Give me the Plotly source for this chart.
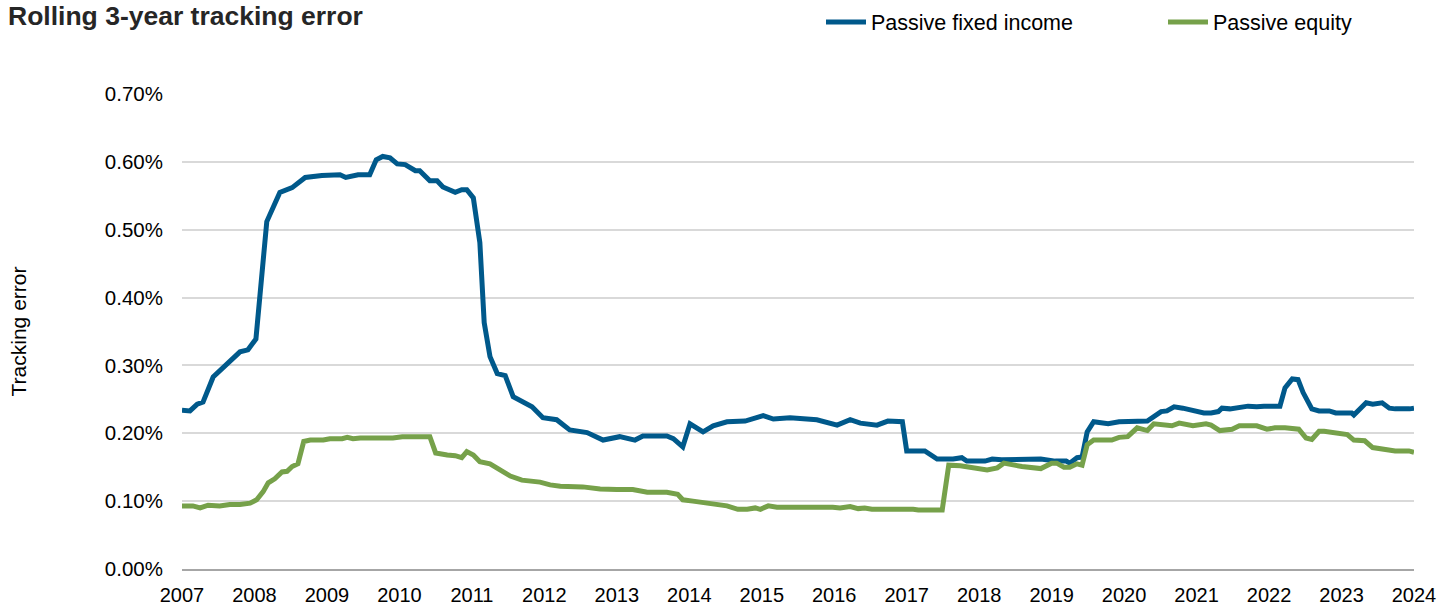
import plotly.graph_objects as go

# ---- data (values in %) ----
fi_years = [2007.00, 2007.11, 2007.21, 2007.29, 2007.43, 2007.80, 2007.91, 2008.02, 2008.17, 2008.35,
            2008.52, 2008.70, 2008.93, 2009.18, 2009.26, 2009.43, 2009.59, 2009.68, 2009.77, 2009.87,
            2009.97, 2010.08, 2010.22, 2010.28, 2010.42, 2010.52, 2010.60, 2010.77, 2010.86, 2010.93,
            2011.02, 2011.11, 2011.17, 2011.25, 2011.35, 2011.46, 2011.57, 2011.71, 2011.83, 2011.98,
            2012.17, 2012.35, 2012.59, 2012.81, 2013.04, 2013.25, 2013.36, 2013.69, 2013.78, 2013.91,
            2014.01, 2014.19, 2014.33, 2014.52, 2014.77, 2015.02, 2015.16, 2015.39, 2015.76, 2016.04,
            2016.22, 2016.36, 2016.59, 2016.74, 2016.94, 2017.00, 2017.25, 2017.42, 2017.64, 2017.76,
            2017.83, 2018.08, 2018.18, 2018.31, 2018.52, 2018.85, 2019.05, 2019.20, 2019.25, 2019.35,
            2019.42, 2019.49, 2019.58, 2019.78, 2019.93, 2020.08, 2020.18, 2020.32, 2020.51, 2020.59,
            2020.69, 2020.81, 2021.10, 2021.20, 2021.30, 2021.35, 2021.46, 2021.61, 2021.71, 2021.83,
            2021.93, 2022.15, 2022.22, 2022.32, 2022.40, 2022.47, 2022.59, 2022.69, 2022.83, 2022.92,
            2023.14, 2023.17, 2023.34, 2023.43, 2023.56, 2023.66, 2023.74, 2023.94, 2024.00]
fi_values = [0.234, 0.233, 0.243, 0.246, 0.283, 0.320, 0.323, 0.339, 0.512, 0.555,
             0.562, 0.577, 0.580, 0.581, 0.577, 0.581, 0.581, 0.603, 0.608, 0.606,
             0.597, 0.596, 0.587, 0.587, 0.572, 0.572, 0.563, 0.555, 0.559, 0.559,
             0.547, 0.481, 0.363, 0.313, 0.288, 0.285, 0.254, 0.245, 0.239, 0.223,
             0.220, 0.205, 0.201, 0.190, 0.195, 0.190, 0.196, 0.196, 0.192, 0.180,
             0.214, 0.202, 0.211, 0.217, 0.218, 0.226, 0.221, 0.223, 0.220, 0.212,
             0.220, 0.215, 0.212, 0.218, 0.217, 0.174, 0.174, 0.162, 0.162, 0.164,
             0.159, 0.159, 0.162, 0.161, 0.162, 0.162, 0.159, 0.159, 0.156, 0.164,
             0.165, 0.202, 0.217, 0.214, 0.217, 0.217, 0.218, 0.218, 0.232, 0.233,
             0.239, 0.237, 0.230, 0.230, 0.232, 0.237, 0.236, 0.239, 0.240, 0.239,
             0.240, 0.240, 0.267, 0.280, 0.279, 0.260, 0.236, 0.233, 0.233, 0.230,
             0.230, 0.227, 0.245, 0.243, 0.245, 0.237, 0.236, 0.236, 0.237]

eq_years = [2007.00, 2007.15, 2007.25, 2007.36, 2007.52, 2007.66, 2007.80, 2007.94, 2008.03, 2008.12,
            2008.19, 2008.28, 2008.38, 2008.45, 2008.52, 2008.60, 2008.68, 2008.77, 2008.95, 2009.04,
            2009.21, 2009.28, 2009.36, 2009.46, 2009.91, 2010.04, 2010.42, 2010.50, 2010.66, 2010.77,
            2010.86, 2010.93, 2011.02, 2011.11, 2011.25, 2011.39, 2011.53, 2011.69, 2011.80, 2011.94,
            2012.08, 2012.22, 2012.53, 2012.77, 2013.00, 2013.22, 2013.42, 2013.69, 2013.84, 2013.91,
            2014.05, 2014.24, 2014.42, 2014.52, 2014.67, 2014.80, 2014.91, 2014.98, 2015.09, 2015.21,
            2015.98, 2016.08, 2016.22, 2016.33, 2016.42, 2016.52, 2017.09, 2017.16, 2017.49, 2017.58,
            2017.74, 2017.89, 2017.98, 2018.11, 2018.25, 2018.34, 2018.59, 2018.76, 2018.85, 2019.00,
            2019.07, 2019.17, 2019.25, 2019.35, 2019.42, 2019.49, 2019.58, 2019.83, 2019.93, 2020.05,
            2020.18, 2020.32, 2020.41, 2020.66, 2020.76, 2020.95, 2021.13, 2021.20, 2021.32, 2021.49,
            2021.59, 2021.83, 2021.97, 2022.08, 2022.22, 2022.41, 2022.51, 2022.59, 2022.69, 2022.76,
            2023.08, 2023.17, 2023.32, 2023.43, 2023.61, 2023.74, 2023.93, 2024.00]
eq_values = [0.093, 0.093, 0.090, 0.094, 0.093, 0.095, 0.095, 0.097, 0.102, 0.114,
             0.127, 0.133, 0.143, 0.144, 0.151, 0.155, 0.188, 0.190, 0.190, 0.192,
             0.192, 0.194, 0.192, 0.193, 0.193, 0.195, 0.195, 0.171, 0.168, 0.167,
             0.164, 0.173, 0.168, 0.158, 0.155, 0.147, 0.137, 0.131, 0.130, 0.128,
             0.124, 0.122, 0.121, 0.118, 0.117, 0.117, 0.113, 0.113, 0.110, 0.102,
             0.100, 0.097, 0.093, 0.093, 0.088, 0.088, 0.090, 0.088, 0.093, 0.091,
             0.091, 0.090, 0.092, 0.089, 0.090, 0.088, 0.088, 0.087, 0.087, 0.153,
             0.152, 0.150, 0.149, 0.146, 0.149, 0.156, 0.151, 0.150, 0.148, 0.156,
             0.156, 0.150, 0.150, 0.155, 0.153, 0.183, 0.190, 0.190, 0.194, 0.195,
             0.208, 0.204, 0.214, 0.211, 0.215, 0.211, 0.214, 0.212, 0.204, 0.206,
             0.211, 0.211, 0.206, 0.208, 0.208, 0.206, 0.193, 0.191, 0.203, 0.203,
             0.198, 0.190, 0.189, 0.179, 0.177, 0.174, 0.174, 0.172]

x_ticks = list(range(2007, 2025))
y_ticks = [0.0, 0.1, 0.2, 0.3, 0.4, 0.5, 0.6, 0.7]
y_tick_labels = ["0.00%", "0.10%", "0.20%", "0.30%", "0.40%", "0.50%", "0.60%", "0.70%"]

BLUE = "#00598b"
GREEN = "#76a14a"
FONT = "Liberation Sans, Arial, sans-serif"

W, H = 1452, 605
L, R, T, B = 182, 38, 94, 36
PW, PH = W - L - R, H - T - B

fig = go.Figure()
fig.add_trace(go.Scatter(x=fi_years, y=fi_values, mode="lines", name="Passive fixed income",
                         line=dict(color=BLUE, width=5), legend="legend"))
fig.add_trace(go.Scatter(x=eq_years, y=eq_values, mode="lines", name="Passive equity",
                         line=dict(color=GREEN, width=5), legend="legend2"))

leg_common = dict(orientation="h", yanchor="middle", y=1 + (T - 22) / PH,
                  font=dict(size=21.5, color="#000000"), bgcolor="rgba(0,0,0,0)",
                  itemwidth=40, xanchor="left")

fig.update_layout(
    width=W, height=H,
    margin=dict(l=L, r=R, t=T, b=B, autoexpand=False),
    paper_bgcolor="white", plot_bgcolor="white",
    font=dict(family=FONT, size=20, color="#000000"),
    showlegend=True,
    legend=dict(x=(821 - L) / PW, **leg_common),
    legend2=dict(x=(1163 - L) / PW, **leg_common),
    annotations=[dict(text="<b>Rolling 3-year tracking error</b>", xref="paper", yref="paper",
                      x=(6 - L) / PW, y=1 + (T - 16) / PH, xanchor="left", yanchor="middle",
                      showarrow=False, font=dict(size=26.5, color="#262626", family=FONT))],
)
fig.update_xaxes(range=[2007, 2024], tickvals=x_ticks, ticktext=[str(v) for v in x_ticks],
                 showgrid=False, zeroline=False, showline=True, linecolor="#a6a6a6", linewidth=1.5,
                 ticks="", tickfont=dict(size=20), ticklabelstandoff=7, automargin=False)
fig.update_yaxes(range=[0, 0.7], tickvals=y_ticks, ticktext=y_tick_labels,
                 showgrid=True, gridcolor="#d9d9d9", gridwidth=1.5, zeroline=False, showline=False,
                 ticks="", tickfont=dict(size=20.5), ticklabelstandoff=18, automargin=False,
                 title=dict(text="Tracking error", font=dict(size=21), standoff=72))

fig.write_html("out.html", config={"displayModeBar": False},
               post_script="document.body.style.margin='0px';")
